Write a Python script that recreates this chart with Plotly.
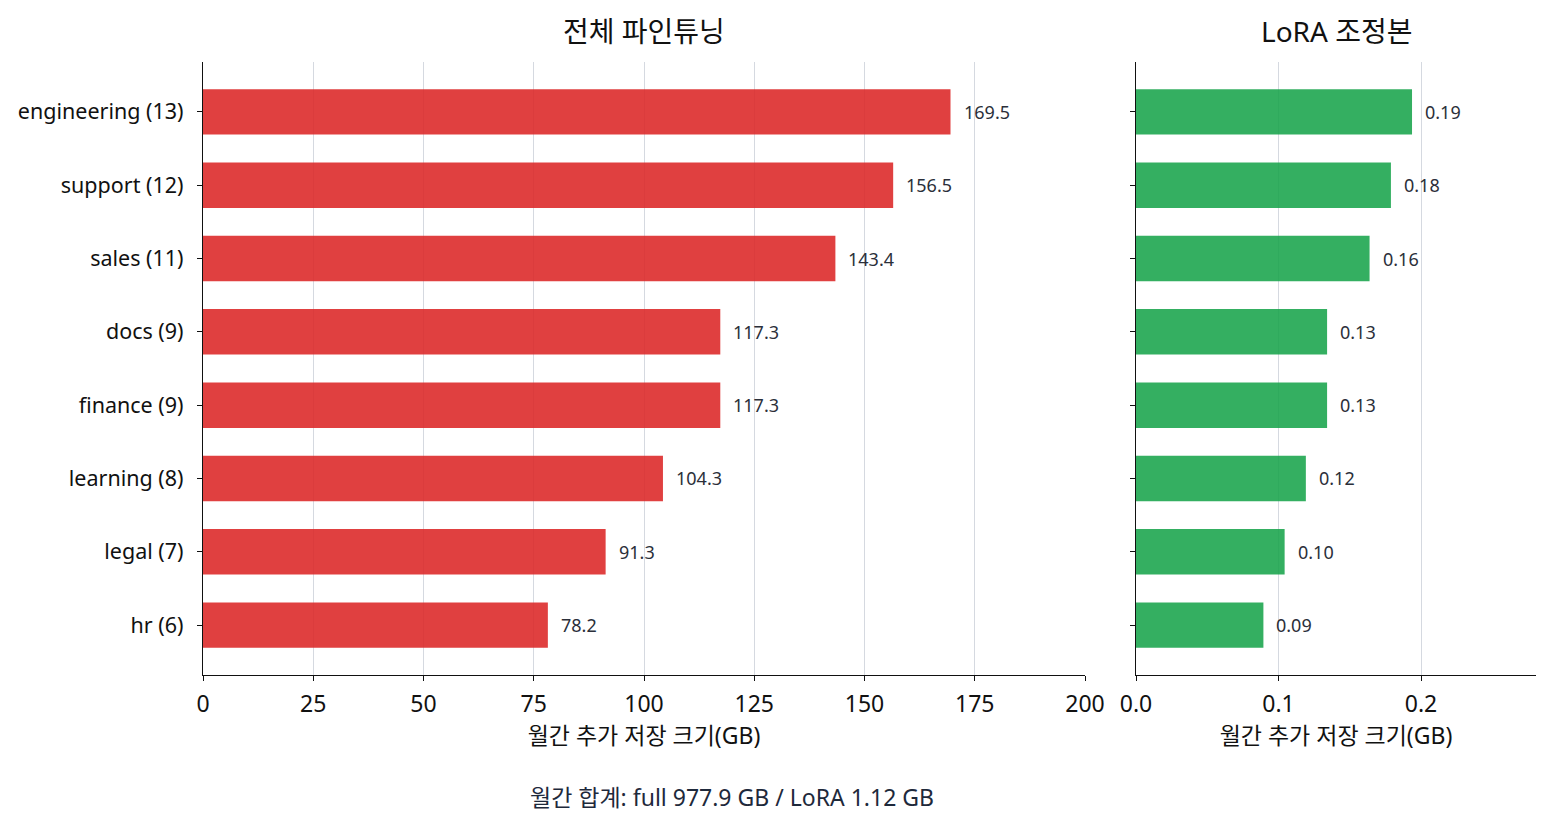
import plotly.graph_objects as go

categories = ["engineering (13)", "support (12)", "sales (11)", "docs (9)",
              "finance (9)", "learning (8)", "legal (7)", "hr (6)"]
full_gb = [169.5, 156.5, 143.4, 117.3, 117.3, 104.3, 91.3, 78.2]
lora_gb = [0.1937, 0.1789, 0.1639, 0.1341, 0.1341, 0.1192, 0.1043, 0.0894]
left_ticks = [0, 25, 50, 75, 100, 125, 150, 175, 200]
right_ticks = [0.0, 0.1, 0.2]

FONT = "Noto Sans, Noto Sans CJK KR"
W, H = 1554, 827
L, R, T, B = 203, 1536, 62, 675  # plot area in pixels


def px(x):
    return (x - L) / (R - L)


def py(y):
    return (B - y) / (B - T)


fig = go.Figure()
fig.add_trace(go.Bar(y=categories, x=full_gb, orientation="h",
                     marker=dict(color="rgba(220,38,38,0.88)", line=dict(width=0)),
                     width=0.62, xaxis="x", yaxis="y", hoverinfo="x+y"))
fig.add_trace(go.Bar(y=categories, x=lora_gb, orientation="h",
                     marker=dict(color="rgba(22,163,74,0.87)", line=dict(width=0)),
                     width=0.62, xaxis="x2", yaxis="y2", hoverinfo="x+y"))

annotations = []
for c, v in zip(categories, full_gb):
    annotations.append(dict(x=v, y=c, xref="x", yref="y", text=f"{v:.1f}",
                            showarrow=False, xanchor="left", yanchor="middle",
                            xshift=11, font=dict(family=FONT, size=18, color="#2b2f3a")))
for c, v in zip(categories, lora_gb):
    annotations.append(dict(x=v, y=c, xref="x2", yref="y2", text=f"{v:.2f}",
                            showarrow=False, xanchor="left", yanchor="middle",
                            xshift=11, font=dict(family=FONT, size=18, color="#2b2f3a")))
annotations.append(dict(x=px(644), y=py(31), xref="paper", yref="paper",
                        text="전체 파인튜닝", showarrow=False, xanchor="center",
                        yanchor="middle", font=dict(family=FONT, size=28, color="#111111")))
annotations.append(dict(x=px(1336), y=py(31), xref="paper", yref="paper",
                        text="LoRA 조정본", showarrow=False, xanchor="center",
                        yanchor="middle", font=dict(family=FONT, size=28, color="#111111")))
annotations.append(dict(x=px(732), y=py(797), xref="paper", yref="paper",
                        text="월간 합계: full 977.9 GB / LoRA 1.12 GB", showarrow=False,
                        xanchor="center", yanchor="middle",
                        font=dict(family=FONT, size=23, color="#1e293b")))

yrange = [7.68, -0.68]
common_x = dict(showgrid=True, gridcolor="#d5d9e0", gridwidth=1, zeroline=False,
                showline=True, linecolor="#111111", linewidth=1.3,
                ticks="outside", ticklen=5, tickcolor="#111111", tickwidth=1.3,
                automargin=False, ticklabelstandoff=3,
                tickfont=dict(family=FONT, size=23, color="#111111"),
                title=dict(text="월간 추가 저장 크기(GB)", standoff=6,
                           font=dict(family=FONT, size=23, color="#111111")))

fig.update_layout(
    width=W, height=H,
    margin=dict(l=L, r=W - R, t=T, b=H - B, autoexpand=False),
    paper_bgcolor="white", plot_bgcolor="white",
    showlegend=False,
    font=dict(family=FONT),
    xaxis=dict(domain=[0, px(1085)], range=[0, 200], tickvals=left_ticks,
               ticktext=[str(t) for t in left_ticks], anchor="y", **common_x),
    xaxis2=dict(domain=[px(1136), 1], range=[0, 0.2807], tickvals=right_ticks,
                ticktext=[f"{t:.1f}" for t in right_ticks], anchor="y2", **common_x),
    yaxis=dict(domain=[0, 1], type="category", categoryorder="array",
               categoryarray=categories, range=yrange, anchor="x", automargin=False,
               showline=True, linecolor="#111111", linewidth=1.3, showgrid=False,
               ticks="outside", ticklen=5, tickcolor="#111111", tickwidth=1.3,
               ticklabelstandoff=9,
               tickfont=dict(family=FONT, size=21.5, color="#111111")),
    yaxis2=dict(domain=[0, 1], type="category", categoryorder="array",
                categoryarray=categories, range=yrange, anchor="x2", automargin=False,
                showline=True, linecolor="#111111", linewidth=1.3, showgrid=False,
                ticks="outside", ticklen=5, tickcolor="#111111", tickwidth=1.3,
                showticklabels=False),
    annotations=annotations,
)

fig.write_html("out.html")
